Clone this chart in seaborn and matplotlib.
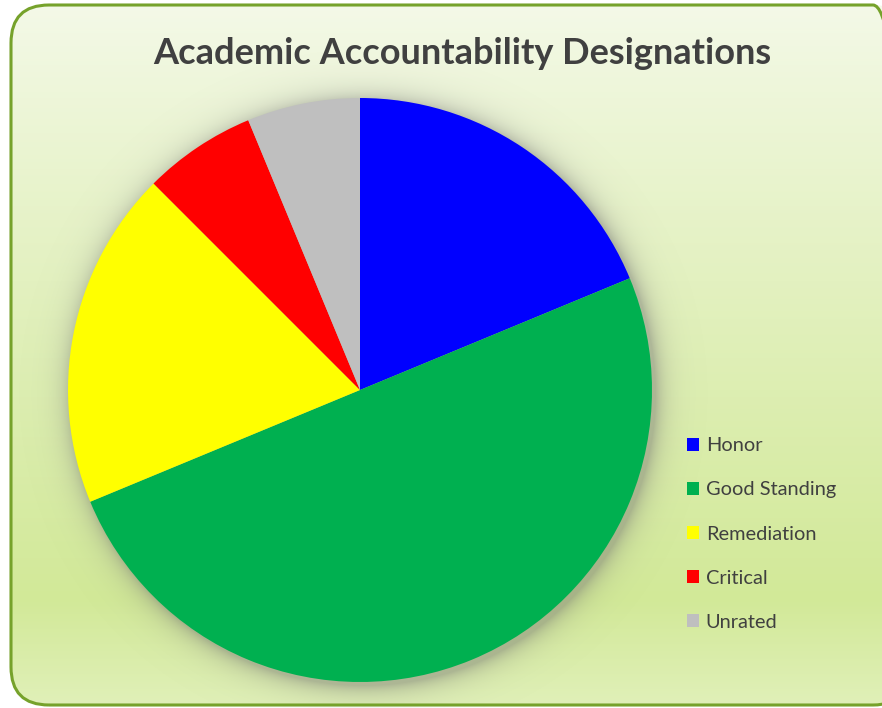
import numpy as np
import matplotlib
matplotlib.use("Agg")
import matplotlib.pyplot as plt
import seaborn as sns
from matplotlib.patches import FancyBboxPatch, Patch

# data (slices clockwise from 12 o'clock)
categories = ["Honor", "Good Standing", "Remediation", "Critical", "Unrated"]
counts = [3, 8, 3, 1, 1]
colors = ["#0000FF", "#00B050", "#FFFF00", "#FF0000", "#BFBFBF"]

sns.set_theme(style="white")
plt.rcParams["font.family"] = ["Lato", "DejaVu Sans"]

W, H = 882, 708
fig = plt.figure(figsize=(W / 100, H / 100), dpi=100)
fig.patch.set_facecolor("white")
ax = fig.add_axes([0, 0, 1, 1])
ax.axis("off")

# rounded chart area with a vertical gradient (light at top, green lower down)
box = FancyBboxPatch((11, 3), 900, 700, boxstyle="round,pad=0,rounding_size=38",
                     facecolor="none", edgecolor="#76A22B", linewidth=2.2, zorder=3)
ax.add_patch(box)
t = np.linspace(0, 1, 300)[:, None]  # 0 = top, 1 = bottom
top = np.array([244, 249, 232]) / 255
mid = np.array([210, 233, 152]) / 255
bot = np.array([224, 240, 184]) / 255
grad = np.where(t < 0.85, top + (mid - top) * (t / 0.85) ** 0.9,
                mid + (bot - mid) * ((t - 0.85) / 0.15))
grad = grad[::-1]  # row 0 at the bottom for origin='lower'
grad = np.repeat(grad[:, None, :], 2, axis=1)
img = ax.imshow(grad, extent=(11, 911, 3, 703), origin="lower", aspect="auto", zorder=0)
img.set_clip_path(box)

# soft shadow around the pie
cx, cy, r = 360, H - 390, 292
xs, ys = np.meshgrid(np.arange(0, W), np.arange(0, H))
d = np.hypot(xs - cx - 3, ys - cy + 4) - r
alpha = np.clip(np.exp(-np.clip(d, 0, None) / 11.0) * 0.45, 0, 1)
alpha[d > 55] = 0
shadow = np.zeros((H, W, 4))
shadow[..., :3] = 0.45
shadow[..., 3] = alpha
ax.imshow(shadow, extent=(0, W, 0, H), origin="lower", zorder=1)

ax.pie(counts, colors=colors, startangle=90, counterclock=False,
       center=(cx, cy), radius=r, frame=True,
       wedgeprops=dict(linewidth=0, zorder=2))
ax.set_xlim(0, W)
ax.set_ylim(0, H)
ax.set_aspect("equal")
ax.axis("off")

ax.text(462, H - 53, "Academic Accountability Designations", ha="center", va="center",
        fontsize=26, fontweight="bold", color="#404040", zorder=4)

handles = [Patch(facecolor=c, edgecolor="none") for c in colors]
leg = ax.legend(handles, categories, loc="center left",
                bbox_to_anchor=(687 / W, 174 / H), bbox_transform=fig.transFigure,
                frameon=False, fontsize=14.4, borderpad=0, borderaxespad=0,
                handlelength=0.62, handleheight=0.62, handletextpad=0.32,
                labelspacing=1.36)
for txt in leg.get_texts():
    txt.set_color("#404040")

fig.savefig("out.png", dpi=100)
